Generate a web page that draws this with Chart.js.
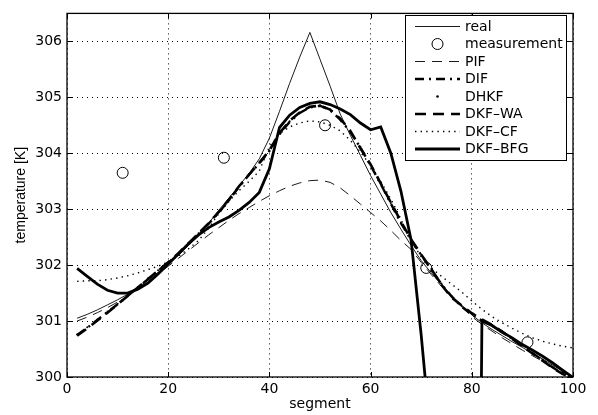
<!DOCTYPE html>
<html>
<head>
<meta charset="utf-8">
<script src="https://cdn.jsdelivr.net/npm/chart.js@4.4.1/dist/chart.umd.min.js"></script>
<style>
  html, body { margin: 0; padding: 0; background: #fff; }
  canvas { display: block; }
</style>
</head>
<body>
<canvas id="chart" width="598" height="415"></canvas>
<script>
// segment positions where the estimators are sampled
const segments = [2, 4, 6, 8, 10, 12, 14, 16, 18, 20, 22, 24, 26, 28, 30, 32, 34, 36, 38, 40,
  42, 44, 46, 48, 50, 52, 54, 56, 58, 60, 62, 64, 66, 68, 70, 72, 74, 76, 78, 80,
  82, 84, 86, 88, 90, 92, 94, 96, 98, 100];

const realTemp = [301.05, 301.12, 301.20, 301.29, 301.38, 301.48, 301.60, 301.73, 301.87, 302.02,
  302.18, 302.35, 302.54, 302.75, 302.98, 303.20, 303.42, 303.64, 303.90, 304.27,
  304.75, 305.25, 305.72, 306.16, 305.68, 305.20, 304.70, 304.32, 303.96, 303.60,
  303.27, 302.94, 302.64, 302.35, 302.08, 301.86, 301.65, 301.46, 301.28, 301.11,
  300.97, 300.85, 300.74, 300.63, 300.53, 300.42, 300.32, 300.21, 300.10, 300.00];

const pifTemp = [301.00, 301.07, 301.15, 301.24, 301.34, 301.45, 301.57, 301.70, 301.84, 301.98,
  302.12, 302.26, 302.40, 302.54, 302.67, 302.80, 302.92, 303.03, 303.14, 303.24,
  303.33, 303.41, 303.47, 303.51, 303.52, 303.48, 303.38, 303.24, 303.09, 302.94,
  302.79, 302.62, 302.44, 302.28, 302.05, 301.83, 301.62, 301.43, 301.25, 301.08,
  300.94, 300.82, 300.70, 300.59, 300.48, 300.38, 300.28, 300.18, 300.08, 300.00];

const difTemp = [300.75, 300.88, 301.02, 301.16, 301.30, 301.45, 301.60, 301.75, 301.90, 302.04,
  302.20, 302.38, 302.56, 302.74, 302.94, 303.16, 303.40, 303.62, 303.82, 304.04,
  304.34, 304.56, 304.72, 304.82, 304.85, 304.77, 304.60, 304.38, 304.10, 303.78,
  303.45, 303.10, 302.75, 302.45, 302.18, 301.92, 301.66, 301.44, 301.26, 301.12,
  301.01, 300.92, 300.81, 300.68, 300.56, 300.43, 300.30, 300.17, 300.06, 299.99];

const dhkfTemp = [300.76, 300.89, 301.03, 301.17, 301.31, 301.46, 301.61, 301.76, 301.91, 302.05,
  302.21, 302.39, 302.57, 302.75, 302.95, 303.17, 303.41, 303.63, 303.83, 304.05,
  304.35, 304.57, 304.73, 304.83, 304.86, 304.78, 304.61, 304.39, 304.11, 303.79,
  303.46, 303.11, 302.76, 302.46, 302.19, 301.93, 301.67, 301.45, 301.27, 301.13,
  301.02, 300.93, 300.82, 300.69, 300.57, 300.44, 300.31, 300.18, 300.07, 300.00];

const waTemp = [300.74, 300.87, 301.01, 301.15, 301.30, 301.45, 301.60, 301.75, 301.90, 302.05,
  302.21, 302.39, 302.57, 302.75, 302.95, 303.17, 303.41, 303.62, 303.83, 304.05,
  304.36, 304.58, 304.73, 304.83, 304.85, 304.78, 304.62, 304.40, 304.09, 303.80,
  303.46, 303.12, 302.78, 302.46, 302.19, 301.93, 301.65, 301.42, 301.28, 301.14,
  301.03, 300.93, 300.81, 300.68, 300.55, 300.42, 300.29, 300.16, 300.05, 299.98];

const cfTemp = [301.71, 301.72, 301.72, 301.74, 301.77, 301.81, 301.86, 301.92, 301.98, 302.06,
  302.16, 302.29, 302.44, 302.66, 302.92, 303.14, 303.33, 303.50, 303.68, 304.12,
  304.35, 304.47, 304.54, 304.58, 304.56, 304.50, 304.40, 304.23, 304.02, 303.78,
  303.50, 303.18, 302.82, 302.43, 302.15, 301.95, 301.80, 301.66, 301.52, 301.36,
  301.21, 301.08, 300.97, 300.87, 300.78, 300.70, 300.64, 300.59, 300.55, 300.52];

const bfgTemp = [301.94, 301.80, 301.66, 301.55, 301.50, 301.50, 301.57, 301.68, 301.84, 302.02,
  302.20, 302.38, 302.54, 302.67, 302.77, 302.86, 302.98, 303.12, 303.30, 303.72,
  304.46, 304.68, 304.82, 304.89, 304.92, 304.87, 304.79, 304.69, 304.54, 304.42,
  304.47, 304.00, 303.32, 302.45, 300.75, 298.80, 294.00, 290.00, 285.00, 280.00,
  301.00, 300.92, 300.80, 300.70, 300.58, 300.48, 300.37, 300.25, 300.12, 299.99];

// measurements
const measSeg = [11, 31, 51, 71, 91];
const measTemp = [303.65, 303.92, 304.50, 301.95, 300.62];

const xTicks = [0, 20, 40, 60, 80, 100];
const yTicks = [300, 301, 302, 303, 304, 305, 306];

const pts = arr => segments.map((s, i) => ({ x: s, y: arr[i] }));

const FONT = 'DejaVu Sans';

const datasets = [
  { label: 'real', data: pts(realTemp), borderColor: '#000', borderWidth: 0.9, order: 7 },
  { label: 'measurement', data: measSeg.map((s, i) => ({ x: s, y: measTemp[i] })), showLine: false,
    pointRadius: 5.5, pointBorderWidth: 1, pointBorderColor: '#000', pointBackgroundColor: 'rgba(0,0,0,0)', order: 6 },
  { label: 'PIF', data: pts(pifTemp), borderColor: '#000', borderWidth: 0.9, borderDash: [10, 7], order: 5 },
  { label: 'DIF', data: pts(difTemp), borderColor: '#000', borderWidth: 2.4, borderDash: [9, 5, 2, 5], order: 4 },
  { label: 'DHKF', data: pts(dhkfTemp), showLine: false, pointRadius: 1, pointBorderWidth: 0,
    pointBackgroundColor: '#000', order: 3 },
  { label: 'DKF\u2013WA', data: pts(waTemp), borderColor: '#000', borderWidth: 2.6, borderDash: [11, 7], order: 2 },
  { label: 'DKF\u2013CF', data: pts(cfTemp), borderColor: '#000', borderWidth: 1.4, borderDash: [1.4, 4.2], order: 1 },
  { label: 'DKF\u2013BFG', data: pts(bfgTemp), borderColor: '#000', borderWidth: 2.8, order: 0, clip: 0 }
];

datasets.forEach(d => {
  d.tension = 0;
  d.fill = false;
  if (d.pointRadius === undefined) d.pointRadius = 0;
});

// frame, inward tick marks and the boxed legend
const matlabAxes = {
  id: 'matlabAxes',
  afterDraw(chart) {
    const { ctx, chartArea: a, scales } = chart;
    ctx.save();
    ctx.strokeStyle = '#000';
    ctx.lineWidth = 1.3;
    ctx.strokeRect(a.left, a.top, a.right - a.left, a.bottom - a.top);

    ctx.lineWidth = 1;
    ctx.beginPath();
    xTicks.forEach(v => {
      const px = Math.round(scales.x.getPixelForValue(v)) + 0.5;
      ctx.moveTo(px, a.bottom); ctx.lineTo(px, a.bottom - 5);
      ctx.moveTo(px, a.top); ctx.lineTo(px, a.top + 5);
    });
    yTicks.forEach(v => {
      const py = Math.round(scales.y.getPixelForValue(v)) + 0.5;
      ctx.moveTo(a.left, py); ctx.lineTo(a.left + 5, py);
      ctx.moveTo(a.right, py); ctx.lineTo(a.right - 5, py);
    });
    ctx.stroke();

    // legend box
    const bx = 405, by = 15, bw = 161, bh = 145;
    ctx.fillStyle = '#fff';
    ctx.fillRect(bx, by, bw, bh);
    ctx.lineWidth = 1;
    ctx.strokeRect(bx + 0.5, by + 0.5, bw, bh);

    ctx.font = '14px "' + FONT + '"';
    ctx.textBaseline = 'middle';
    ctx.textAlign = 'left';
    chart.data.datasets.forEach((d, i) => {
      const y = 26.5 + i * 17.5;
      ctx.strokeStyle = '#000';
      ctx.fillStyle = '#000';
      if (d.showLine === false) {
        ctx.beginPath();
        if (d.label === 'measurement') {
          ctx.lineWidth = 1;
          ctx.arc(437.5, y, d.pointRadius, 0, Math.PI * 2);
          ctx.stroke();
        } else {
          ctx.arc(437.5, y, 1.3, 0, Math.PI * 2);
          ctx.fill();
        }
      } else {
        ctx.lineWidth = d.borderWidth;
        ctx.setLineDash(d.borderDash || []);
        ctx.beginPath();
        ctx.moveTo(415, y);
        ctx.lineTo(460, y);
        ctx.stroke();
        ctx.setLineDash([]);
      }
      ctx.fillText(d.label, 465, y + 0.5);
    });
    ctx.restore();
  }
};

const tickFont = { family: FONT, size: 14 };

new Chart(document.getElementById('chart').getContext('2d'), {
  type: 'line',
  data: { datasets },
  options: {
    responsive: false,
    animation: false,
    layout: { padding: { left: 0, right: 25, top: 8, bottom: 0 } },
    plugins: { legend: { display: false }, tooltip: { enabled: false } },
    scales: {
      x: {
        type: 'linear', min: 0, max: 100,
        afterBuildTicks: s => { s.ticks = xTicks.map(v => ({ value: v })); },
        afterFit: s => { s.height = 38; },
        grid: { color: '#000', lineWidth: 1, drawTicks: false },
        border: { display: false, dash: [1, 4] },
        ticks: { color: '#000', font: tickFont, padding: 4, maxRotation: 0 },
        title: { display: true, text: 'segment', color: '#000', font: tickFont, padding: { top: 0, bottom: 2 } }
      },
      y: {
        type: 'linear', min: 300, max: 306.5,
        afterBuildTicks: s => { s.ticks = yTicks.map(v => ({ value: v })); },
        afterFit: s => { s.width = 67; },
        grid: { color: '#000', lineWidth: 1, drawTicks: false },
        border: { display: false, dash: [1, 4] },
        ticks: { color: '#000', font: tickFont, padding: 5 },
        title: { display: true, text: 'temperature [K]', color: '#000',
          font: { family: 'Liberation Sans', size: 14 }, padding: { top: 13, bottom: 0 } }
      }
    }
  },
  plugins: [matlabAxes]
});
</script>
</body>
</html>
